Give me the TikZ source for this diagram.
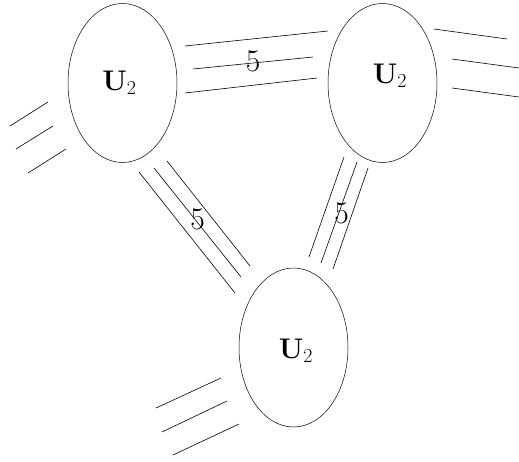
\RequirePackage{fix-cm}
\documentclass[tikz,border=0pt]{standalone}
\usetikzlibrary{shapes.geometric}
\begin{document}
\begin{tikzpicture}[x=1pt,y=-1pt,
  blob/.style={draw,ellipse,minimum width=109pt,minimum height=159pt,inner sep=0pt,line width=0.5pt},
  lab/.style={font=\fontsize{28.4}{34}\selectfont,inner sep=0pt,anchor=base},
  num/.style={font=\fontsize{31.5}{38}\selectfont,inner sep=0pt},
  leg/.style={line width=0.6pt}]
\useasboundingbox (0,0) rectangle (519,461);
\node[blob] (A) at (122.5,83) {};
\node[blob] (B) at (382.5,83) {};
\node[blob] (C) at (293.5,347.5) {};
\node[lab] (tA) at (119.5,90) {$\mathbf{U}_2$};
\node[lab] (tB) at (390,83) {$\mathbf{U}_2$};
\node[lab] (tC) at (296,358) {$\mathbf{U}_2$};
% A-B
\coordinate (ab1s) at (185,46); \coordinate (ab1e) at (328,31);
\coordinate (ab2s) at (193,69); \coordinate (ab2e) at (313,57);
\coordinate (ab3s) at (185,93); \coordinate (ab3e) at (317,78);
\draw[leg] (ab1s) -- (ab1e); \draw[leg] (ab2s) -- (ab2e); \draw[leg] (ab3s) -- (ab3e);
\node[num] (l1) at (253,61.5) {$5$};
% A-C
\coordinate (ac1s) at (139,172); \coordinate (ac1e) at (235,293);
\coordinate (ac2s) at (154,168); \coordinate (ac2e) at (241,277);
\coordinate (ac3s) at (167,161); \coordinate (ac3e) at (250,266);
\draw[leg] (ac1s) -- (ac1e); \draw[leg] (ac2s) -- (ac2e); \draw[leg] (ac3s) -- (ac3e);
\node[num] (l2) at (197.5,219.5) {$5$};
% B-C
\coordinate (bc1s) at (344,157); \coordinate (bc1e) at (309,257);
\coordinate (bc2s) at (357,162); \coordinate (bc2e) at (321,263);
\coordinate (bc3s) at (368,168); \coordinate (bc3e) at (333,269);
\draw[leg] (bc1s) -- (bc1e); \draw[leg] (bc2s) -- (bc2e); \draw[leg] (bc3s) -- (bc3e);
\node[num] (l3) at (341.5,213.5) {$5$};
% external A
\coordinate (ea1s) at (48,102); \coordinate (ea1e) at (10,126);
\coordinate (ea2s) at (53,126); \coordinate (ea2e) at (16,149);
\coordinate (ea3s) at (66,149); \coordinate (ea3e) at (28,173);
\draw[leg] (ea1s) -- (ea1e); \draw[leg] (ea2s) -- (ea2e); \draw[leg] (ea3s) -- (ea3e);
% external B
\coordinate (eb1s) at (434,29); \coordinate (eb1e) at (507,39);
\coordinate (eb2s) at (452,59); \coordinate (eb2e) at (519,68);
\coordinate (eb3s) at (452,88); \coordinate (eb3e) at (519,97);
\draw[leg] (eb1s) -- (eb1e); \draw[leg] (eb2s) -- (eb2e); \draw[leg] (eb3s) -- (eb3e);
% external C
\coordinate (ec1s) at (221,378); \coordinate (ec1e) at (156,408);
\coordinate (ec2s) at (227,401); \coordinate (ec2e) at (162,432);
\coordinate (ec3s) at (239,424); \coordinate (ec3e) at (173,455);
\draw[leg] (ec1s) -- (ec1e); \draw[leg] (ec2s) -- (ec2e); \draw[leg] (ec3s) -- (ec3e);
\end{tikzpicture}
\end{document}
